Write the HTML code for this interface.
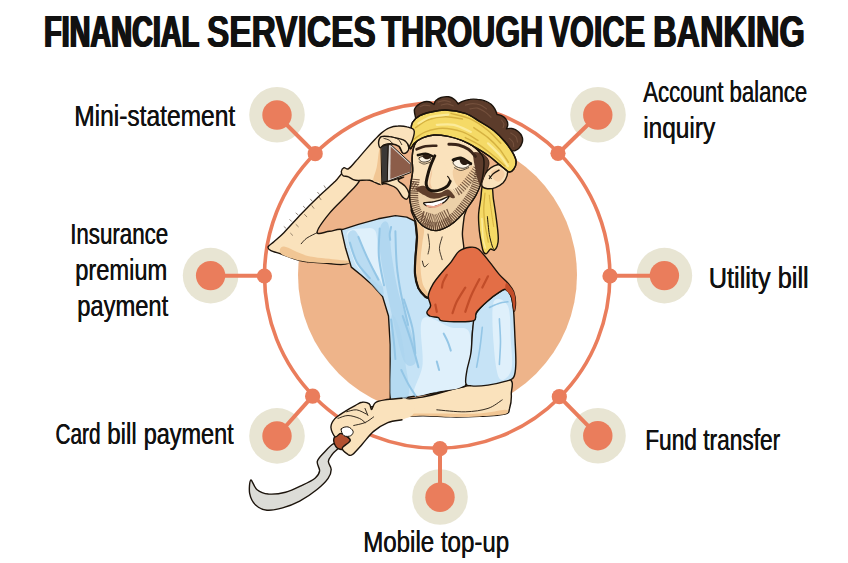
<!DOCTYPE html>
<html><head><meta charset="utf-8"><title>Financial services through voice banking</title>
<style>
html,body{margin:0;padding:0;background:#fff;}
body{width:848px;height:563px;overflow:hidden;font-family:"Liberation Sans",sans-serif;}
svg{display:block;}
text{font-family:"Liberation Sans",sans-serif;fill:#111;}
.t{font-weight:bold;font-size:43.5px;}
.l{font-size:30px;}
</style></head><body>
<svg width="848" height="563" viewBox="0 0 848 563">
<rect width="848" height="563" fill="#fff"/>
<!-- title -->
<g class="t" id="title">
<text x="43.20" y="46.7" textLength="155.1" lengthAdjust="spacingAndGlyphs">FINANCIAL</text>
<text x="44.10" y="46.7" textLength="155.1" lengthAdjust="spacingAndGlyphs">FINANCIAL</text>
<text x="45.00" y="46.7" textLength="155.1" lengthAdjust="spacingAndGlyphs">FINANCIAL</text>
<text x="206.40" y="46.7" textLength="168.8" lengthAdjust="spacingAndGlyphs">SERVICES</text>
<text x="207.00" y="46.7" textLength="168.8" lengthAdjust="spacingAndGlyphs">SERVICES</text>
<text x="207.60" y="46.7" textLength="168.8" lengthAdjust="spacingAndGlyphs">SERVICES</text>
<text x="380.85" y="46.7" textLength="161.8" lengthAdjust="spacingAndGlyphs">THROUGH</text>
<text x="381.50" y="46.7" textLength="161.8" lengthAdjust="spacingAndGlyphs">THROUGH</text>
<text x="382.15" y="46.7" textLength="161.8" lengthAdjust="spacingAndGlyphs">THROUGH</text>
<text x="548.80" y="46.7" textLength="95.8" lengthAdjust="spacingAndGlyphs">VOICE</text>
<text x="549.40" y="46.7" textLength="95.8" lengthAdjust="spacingAndGlyphs">VOICE</text>
<text x="550.00" y="46.7" textLength="95.8" lengthAdjust="spacingAndGlyphs">VOICE</text>
<text x="652.50" y="46.7" textLength="151.5" lengthAdjust="spacingAndGlyphs">BANKING</text>
<text x="653.20" y="46.7" textLength="151.5" lengthAdjust="spacingAndGlyphs">BANKING</text>
<text x="653.90" y="46.7" textLength="151.5" lengthAdjust="spacingAndGlyphs">BANKING</text>
</g>
<!-- labels -->
<g class="l">
<g transform="translate(0.4 0)">
<text x="74" y="125.8" textLength="161" lengthAdjust="spacingAndGlyphs">Mini-statement</text>
<text x="643" y="102" textLength="164" lengthAdjust="spacingAndGlyphs">Account balance</text>
<text x="643" y="138.3" textLength="72" lengthAdjust="spacingAndGlyphs">inquiry</text>
<text x="70" y="244.4" textLength="98" lengthAdjust="spacingAndGlyphs">Insurance</text>
<text x="75" y="280.1" textLength="92" lengthAdjust="spacingAndGlyphs">premium</text>
<text x="77" y="315.8" textLength="91" lengthAdjust="spacingAndGlyphs">payment</text>
<text x="708.5" y="287.6" textLength="100" lengthAdjust="spacingAndGlyphs">Utility bill</text>
<text x="55.3" y="443.9" textLength="45" lengthAdjust="spacingAndGlyphs">Card</text>
<text x="107" y="443.9" textLength="29.5" lengthAdjust="spacingAndGlyphs">bill</text>
<text x="143.5" y="443.9" textLength="90" lengthAdjust="spacingAndGlyphs">payment</text>
<text x="645" y="450.1" textLength="135" lengthAdjust="spacingAndGlyphs">Fund transfer</text>
<text x="363" y="551.5" textLength="146" lengthAdjust="spacingAndGlyphs">Mobile top-up</text>
</g>
<text x="74" y="125.8" textLength="161" lengthAdjust="spacingAndGlyphs">Mini-statement</text>
<text x="643" y="102" textLength="164" lengthAdjust="spacingAndGlyphs">Account balance</text>
<text x="643" y="138.3" textLength="72" lengthAdjust="spacingAndGlyphs">inquiry</text>
<text x="70" y="244.4" textLength="98" lengthAdjust="spacingAndGlyphs">Insurance</text>
<text x="75" y="280.1" textLength="92" lengthAdjust="spacingAndGlyphs">premium</text>
<text x="77" y="315.8" textLength="91" lengthAdjust="spacingAndGlyphs">payment</text>
<text x="708.5" y="287.6" textLength="100" lengthAdjust="spacingAndGlyphs">Utility bill</text>
<text x="55.3" y="443.9" textLength="45" lengthAdjust="spacingAndGlyphs">Card</text>
<text x="107" y="443.9" textLength="29.5" lengthAdjust="spacingAndGlyphs">bill</text>
<text x="143.5" y="443.9" textLength="90" lengthAdjust="spacingAndGlyphs">payment</text>
<text x="645" y="450.1" textLength="135" lengthAdjust="spacingAndGlyphs">Fund transfer</text>
<text x="363" y="551.5" textLength="146" lengthAdjust="spacingAndGlyphs">Mobile top-up</text>
</g>
<!-- inner disc -->
<circle cx="437.5" cy="275" r="139.5" fill="#eeb48a"/>
<!-- beige halos -->
<g fill="#e8e5d3">
<circle cx="277" cy="114.8" r="27.8"/><circle cx="598" cy="114.8" r="27.8"/>
<circle cx="210.6" cy="275.6" r="27.8"/><circle cx="664.4" cy="275.6" r="27.8"/>
<circle cx="277" cy="435.9" r="27.8"/><circle cx="598" cy="435.7" r="27.8"/>
<circle cx="440" cy="497" r="27.8"/>
</g>
<!-- ring + connectors -->
<g fill="none" stroke="#ea7d5c" stroke-width="3.6">
<circle cx="437.2" cy="275.6" r="172.7"/>
<g stroke-width="4">
<line x1="277" y1="115" x2="315" y2="153.2"/>
<line x1="597.8" y1="115" x2="558.5" y2="153.3"/>
<line x1="210.6" y1="275.8" x2="264.4" y2="275.8"/>
<line x1="664.4" y1="275.8" x2="610" y2="275.8"/>
<line x1="277" y1="436" x2="312.6" y2="396.2"/>
<line x1="597.8" y1="435.7" x2="559.3" y2="396.7"/>
<line x1="440" y1="497" x2="440" y2="448.7"/>
</g>
</g>
<!-- nodes -->
<g fill="#ea7d5c">
<circle cx="277" cy="115" r="14.7"/><circle cx="597.8" cy="115" r="14.7"/>
<circle cx="210.6" cy="275.6" r="14.7"/><circle cx="664.4" cy="275.6" r="14.7"/>
<circle cx="277" cy="436" r="14.7"/><circle cx="597.8" cy="435.7" r="14.7"/>
<circle cx="440" cy="497.2" r="14.7"/>
<circle cx="315.2" cy="153.7" r="7.6"/><circle cx="558" cy="153.3" r="7.6"/>
<circle cx="264.4" cy="276" r="7.6"/><circle cx="610" cy="276" r="7.6"/>
<circle cx="312.6" cy="396.2" r="7.6"/><circle cx="559.3" cy="396.7" r="7.6"/>
<circle cx="440" cy="448.7" r="7.6"/>
</g>
<!-- CHARACTER -->
<g id="man">
<path d="M483.1 183.5 C481.3 186.1 481.5 193.9 480.7 199.1 C480 204.3 478.8 209.5 478.6 214.7 C478.3 219.9 478.9 225.5 479.3 230.4 C479.8 235.2 480.8 240.5 481.5 244 C482.2 247.6 482.6 250.3 483.5 251.9 C484.3 253.4 485.2 254.1 486.4 253.6 C487.6 253.2 489.2 249.7 490.5 249.1 C491.8 248.6 493.1 250.8 494.2 250.3 C495.3 249.8 496.4 248.2 497.1 246.2 C497.8 244.2 498.4 242.8 498.3 238.2 C498.2 233.6 497.2 225.1 496.3 218.6 C495.5 212.1 494.3 204.9 493.4 199.1 C492.6 193.2 493 186.1 491.3 183.5 C489.5 180.8 484.8 180.8 483.1 183.5Z" fill="#f5da66" stroke="#1c140c" stroke-width="1.4" stroke-linejoin="round" stroke-linecap="round"/>
<path d="M485 193.2 C484.8 195.8 483.8 203.6 483.8 208.9 C483.8 214.1 484.3 219 485 224.5 C485.8 230 487.8 239.1 488.3 242.1" fill="none" stroke="#d6b241" stroke-width="1.2" stroke-linejoin="round" stroke-linecap="round"/>
<path d="M487.4 216.7 C487.7 219.6 488.5 229.4 489.3 234.3 C490.1 239.1 491.4 243.3 492.2 246 C493.1 248.6 493.9 249.4 494.2 250.1" fill="none" stroke="#1c140c" stroke-width="1" stroke-linejoin="round" stroke-linecap="round"/>
<path d="M489.3 195.2 C489.6 197.8 490.6 205.6 491.3 210.8 C492 216 493.2 223.8 493.6 226.4" fill="none" stroke="#d6b241" stroke-width="1" stroke-linejoin="round" stroke-linecap="round"/>
<path d="M481.9 218.6 C482.1 221.9 482.5 233.3 483.1 238.2 C483.6 243.1 485 246.3 485.4 247.9" fill="none" stroke="#fbeb9a" stroke-width="1.6" stroke-linejoin="round" stroke-linecap="round"/>
<path d="M415.6 117.9 C415.4 116.5 414 111.8 414.4 109.6 C414.7 107.5 416.4 106.4 417.8 105.1 C419.3 103.8 421.2 102.6 423.1 102.1 C425 101.5 427.3 101.4 429.2 101.8 C431 102.2 433.2 104 434 104.5 C434.3 103.8 434.7 101.7 435.9 100.6 C437.2 99.4 439.1 98.2 441.2 97.5 C443.4 96.9 446.5 96.4 448.8 96.8 C451 97.2 453.3 98.6 454.8 99.8 C456.4 101 457.6 103.2 458.1 103.9 C458.8 103.5 460.4 102.1 462.4 101.3 C464.3 100.6 467.4 99.7 469.9 99.4 C472.4 99 474.9 99.1 477.5 99.4 C480 99.6 482.7 100 485 100.9 C487.3 101.7 489.4 103 491.1 104.3 C492.7 105.7 493.8 107.2 494.8 108.9 C495.8 110.6 496.7 113.5 497.1 114.5 C497.8 114.7 500.1 114.8 501.6 115.7 C503.1 116.5 505.1 117.9 506.1 119.4 C507.2 120.9 507.8 123.2 507.8 124.7 C507.9 126.3 506.7 128.1 506.4 128.8 C507.4 128.7 510.2 128 512.2 128.5 C514.1 128.9 516.6 130.1 518.2 131.5 C519.9 132.9 521.5 134.9 522.1 136.8 C522.8 138.7 522.7 141 522.1 142.8 C521.6 144.7 520.3 146.8 519.1 148.1 C517.9 149.4 515.6 150.3 514.9 150.7 C513.7 150.6 510.9 152.2 507.7 150.4 C504.4 148.6 500.1 143.3 495.6 139.8 C491.1 136.3 485.5 132.1 480.5 129.3 C475.5 126.4 470.9 124.2 465.4 122.5 C459.9 120.7 452.8 119.2 447.3 118.7 C441.7 118.2 436.7 118.9 432.2 119.4 C427.6 119.9 422.9 122 420.1 121.7 C417.3 121.5 416.3 118.6 415.6 117.9Z" fill="#5c3c2b" stroke="#1c140c" stroke-width="1.4" stroke-linejoin="round" stroke-linecap="round"/>
<path d="M420.1 106.6 C420.9 106.4 423 105.2 424.6 105.1 C426.3 105 429 105.7 429.9 105.9" fill="none" stroke="#74503c" stroke-width="1.1" stroke-linejoin="round" stroke-linecap="round"/>
<path d="M438.2 102.1 C439.2 101.8 442.2 100.6 444.3 100.6 C446.3 100.6 449.3 101.8 450.3 102.1" fill="none" stroke="#74503c" stroke-width="1.1" stroke-linejoin="round" stroke-linecap="round"/>
<path d="M441.2 105.1 C442.2 104.9 445.3 103.8 447.3 103.9 C449.3 104 452.3 105.5 453.3 105.9" fill="none" stroke="#74503c" stroke-width="1.1" stroke-linejoin="round" stroke-linecap="round"/>
<path d="M465.4 105.1 C466.6 104.8 470.4 103.6 472.9 103.6 C475.5 103.6 478.2 104.2 480.5 105.1 C482.7 106 485.5 108.2 486.5 108.9" fill="none" stroke="#74503c" stroke-width="1.1" stroke-linejoin="round" stroke-linecap="round"/>
<path d="M469.9 108.9 C471.2 108.7 474.9 107.6 477.5 108.1 C480 108.6 482.7 110.4 485 111.9 C487.3 113.4 490 116.3 491.1 117.2" fill="none" stroke="#74503c" stroke-width="1.1" stroke-linejoin="round" stroke-linecap="round"/>
<path d="M501.6 120.2 C502 120.8 503.6 122.7 503.9 124 C504.1 125.2 503.3 127.1 503.1 127.7" fill="none" stroke="#74503c" stroke-width="1.1" stroke-linejoin="round" stroke-linecap="round"/>
<path d="M510.7 133 C511.6 133.7 514.8 135.3 516 136.8 C517.1 138.3 517.2 141.2 517.5 142.1" fill="none" stroke="#74503c" stroke-width="1.1" stroke-linejoin="round" stroke-linecap="round"/>
<path d="M509.2 138.3 C509.8 138.9 512.2 140.7 512.9 142.1 C513.7 143.5 513.6 145.9 513.7 146.6" fill="none" stroke="#74503c" stroke-width="1.1" stroke-linejoin="round" stroke-linecap="round"/>
<path d="M475.2 151.3 C476.5 150.6 481.8 153 484 154.8 C486.3 156.6 488.4 159.3 488.9 162 C489.4 164.7 487.9 167.7 487 170.8 C486 173.9 484.4 179.3 483.1 180.6 C481.8 181.9 480 180.6 479.1 178.6 C478.3 176.7 478.2 172.1 477.8 168.9 C477.4 165.6 477 162 476.6 159.1 C476.2 156.2 474 152 475.2 151.3Z" fill="#5c3c2b" stroke="#1c140c" stroke-width="0.8" stroke-linejoin="round" stroke-linecap="round"/>
<path d="M412.4 205.7 C408.6 211.1 414.5 216.1 415.3 221.3 C416 226.5 416.7 231 416.7 236.9 C416.7 242.9 415.6 250.7 415.3 256.8 C414.9 263 414.2 268.7 414.7 273.9 C415.2 279.1 416.3 284.3 418.1 288.1 C419.8 291.9 423.2 294.9 425.2 296.6 C427.2 298.3 428.4 300.7 430 298.3 C431.7 296 432.9 287 435.1 282.4 C437.4 277.9 440.4 274.8 443.7 271 C447 267.3 451.7 262.9 455 259.7 C458.4 256.5 462.3 256 463.6 251.7 C464.8 247.5 462.3 239.9 462.4 234.1 C462.5 228.3 463.5 222.7 464.1 217.1 C464.8 211.4 470.8 204.7 466.4 200 C462 195.3 447 187.7 438 188.6 C429 189.6 416.2 200.2 412.4 205.7Z" fill="#fae2bc" stroke="#1c140c" stroke-width="1.4" stroke-linejoin="round" stroke-linecap="round"/>
<path d="M415.3 222.7 C414.1 224.2 416.7 231.3 416.7 236.9 C416.7 242.6 415.6 250.7 415.3 256.8 C414.9 263 414.2 268.7 414.7 273.9 C415.2 279.1 416.3 284.3 418.1 288.1 C419.8 291.9 423.5 295.7 425.2 296.6 C426.9 297.6 428.5 296.1 428 293.8 C427.6 291.4 423.6 287.6 422.4 282.4 C421.1 277.2 420.4 269.1 420.4 262.5 C420.4 255.9 421.8 248.3 422.4 242.6 C422.9 236.9 425 231.7 423.8 228.4 C422.6 225.1 416.4 221.3 415.3 222.7Z" fill="#f1c694"/>
<path d="M422.4 261.1 C422.7 262 423.4 266.3 424.3 266.8 C425.3 267.3 427.4 264.4 428 263.9" fill="none" stroke="#1c140c" stroke-width="0.9" stroke-linejoin="round" stroke-linecap="round"/>
<path d="M428 234.1 C428.3 236 429.5 242.2 429.5 245.5 C429.5 248.8 428.3 252.6 428 254" fill="none" stroke="#1c140c" stroke-width="0.8" stroke-linejoin="round" stroke-linecap="round"/>
<path d="M442.2 236.9 C441.8 238.8 439.4 244.5 439.4 248.3 C439.4 252.1 441.8 257.8 442.2 259.7" fill="none" stroke="#1c140c" stroke-width="0.8" stroke-linejoin="round" stroke-linecap="round"/>
<path d="M343.8 172.2 C340.5 173.6 339.5 177.1 335.3 181.3 C331 185.4 323.9 191.4 318.2 196.9 C312.5 202.3 306.8 208 301.2 213.9 C295.5 219.9 288.6 227.8 284.1 232.4 C279.6 237 276.8 239.1 274.2 241.5 C271.5 243.9 268.8 245.2 268.2 246.6 C267.6 248.1 268.3 249.1 270.5 250.3 C272.6 251.5 276.1 252.3 281.3 254 C286.4 255.8 294 259.3 301.2 260.8 C308.3 262.3 316.1 262.7 323.9 263.1 C331.7 263.5 342.8 266.1 348 263.4 C353.2 260.6 355.9 252.2 355.1 246.6 C354.4 241.1 348 232.7 343.8 230.1 C339.5 227.6 334 230.9 329.6 231.3 C325.1 231.7 317.1 235.4 317.1 232.4 C317.1 229.4 324.6 219.2 329.6 213.1 C334.5 206.9 341.6 200.9 346.6 195.5 C351.6 190.1 358 184.5 359.4 180.7 C360.8 176.9 357.7 174.2 355.1 172.7 C352.5 171.3 347.1 170.7 343.8 172.2Z" fill="#fae2bc" stroke="#1c140c" stroke-width="1.4" stroke-linejoin="round" stroke-linecap="round"/>
<path d="M317.1 232.7 C315.4 233.6 309.5 236.2 306.8 238.1 C304.2 239.9 302.1 242.8 301.2 243.8" fill="none" stroke="#1c140c" stroke-width="0.9" stroke-linejoin="round" stroke-linecap="round"/>
<path d="M325.6 188.1 L324.2 185.8" fill="none" stroke="#4a3a2c" stroke-width="0.6" stroke-linejoin="round" stroke-linecap="round"/>
<path d="M319.3 194.3 L317.6 192.3" fill="none" stroke="#4a3a2c" stroke-width="0.6" stroke-linejoin="round" stroke-linecap="round"/>
<path d="M312.2 201.2 L310.5 199.2" fill="none" stroke="#4a3a2c" stroke-width="0.6" stroke-linejoin="round" stroke-linecap="round"/>
<path d="M305.1 208 L303.4 206.3" fill="none" stroke="#4a3a2c" stroke-width="0.6" stroke-linejoin="round" stroke-linecap="round"/>
<path d="M298 214.8 L296 213.1" fill="none" stroke="#4a3a2c" stroke-width="0.6" stroke-linejoin="round" stroke-linecap="round"/>
<path d="M291.5 221.3 L289.8 219.6" fill="none" stroke="#4a3a2c" stroke-width="0.6" stroke-linejoin="round" stroke-linecap="round"/>
<path d="M285.8 228.1 L284.1 226.7" fill="none" stroke="#4a3a2c" stroke-width="0.6" stroke-linejoin="round" stroke-linecap="round"/>
<path d="M321 199.7 L319.3 197.2" fill="none" stroke="#4a3a2c" stroke-width="0.6" stroke-linejoin="round" stroke-linecap="round"/>
<path d="M313.9 208.3 L311.9 205.7" fill="none" stroke="#4a3a2c" stroke-width="0.6" stroke-linejoin="round" stroke-linecap="round"/>
<path d="M306.8 216.8 L304.6 214.5" fill="none" stroke="#4a3a2c" stroke-width="0.6" stroke-linejoin="round" stroke-linecap="round"/>
<path d="M298.3 226.7 L296 224.5" fill="none" stroke="#4a3a2c" stroke-width="0.6" stroke-linejoin="round" stroke-linecap="round"/>
<path d="M292.6 235.3 L290.6 233.3" fill="none" stroke="#4a3a2c" stroke-width="0.6" stroke-linejoin="round" stroke-linecap="round"/>
<path d="M289.8 255.1 L290.9 258" fill="none" stroke="#4a3a2c" stroke-width="0.6" stroke-linejoin="round" stroke-linecap="round"/>
<path d="M298.3 258 L299.4 260.8" fill="none" stroke="#4a3a2c" stroke-width="0.6" stroke-linejoin="round" stroke-linecap="round"/>
<path d="M306.8 260.3 L307.7 262.8" fill="none" stroke="#4a3a2c" stroke-width="0.6" stroke-linejoin="round" stroke-linecap="round"/>
<path d="M284.1 252.3 L285.2 254.9" fill="none" stroke="#4a3a2c" stroke-width="0.6" stroke-linejoin="round" stroke-linecap="round"/>
<path d="M284.1 246.6 C288.4 246.9 298.3 253.6 306.8 255.7 C315.4 257.8 328.4 258.6 335.3 259.4 C342.1 260.3 345.9 260.2 348 260.8 C350.2 261.5 352.1 263 348 263.4 C344 263.8 331.7 263.5 323.9 263.1 C316.1 262.7 308.3 262.3 301.2 260.8 C294 259.3 284.1 256.4 281.3 254 C278.4 251.6 279.8 246.3 284.1 246.6Z" fill="#f1c694"/>
<path d="M380 405 C385 403.2 383.1 401.8 390.2 400.5 C397.3 399.1 410.1 399.4 422.6 397.1 C435.1 394.7 451 389.3 465.3 386.3 C479.5 383.2 500.2 377.3 507.9 378.6 C515.5 379.9 511 389.2 511.3 394.2 C511.6 399.2 510.6 405.1 509.6 408.4 C508.5 411.7 510.1 412.8 505 414.1 C500 415.4 488.5 415.9 479.5 416.4 C470.5 416.8 460.5 417 451 416.9 C441.6 416.8 431.6 415.7 422.6 415.8 C413.6 415.9 404.2 416 397.1 417.5 C389.9 419 385.7 422.6 380 424.9 C374.3 427.2 366.3 433.4 362.9 431.2 C359.6 428.9 357.3 415.6 360.1 411.3 C362.9 406.9 375 406.8 380 405Z" fill="#fae2bc" stroke="#1c140c" stroke-width="1.4" stroke-linejoin="round" stroke-linecap="round"/>
<path d="M436.8 409.8 C441.6 410.2 456.7 412.1 465.3 411.8 C473.8 411.6 481.8 410.4 488 408.4 C494.1 406.4 499.8 401.3 502.2 399.9" fill="none" stroke="#1c140c" stroke-width="0.9" stroke-linejoin="round" stroke-linecap="round"/>
<path d="M397.1 414.1 C403.7 413.4 423.1 413.6 436.8 413.5 C450.6 413.4 468.1 414.1 479.5 413.5 C490.8 412.9 500.8 409.7 505 409.8 C509.3 409.9 509.3 413 505 414.1 C500.8 415.2 488.5 415.9 479.5 416.4 C470.5 416.8 460.5 417 451 416.9 C441.6 416.8 431.6 415.7 422.6 415.8 C413.6 415.9 401.3 417.8 397.1 417.5 C392.8 417.2 390.4 414.8 397.1 414.1Z" fill="#f1c694"/>
<path d="M341.4 229.8 L358.4 224.4 L378.3 218.8 L395.4 215.6 L406.7 217.1 L415.3 221.3 L416.7 236.9 L415.3 256.8 L414.7 273.9 L418.1 288.1 L425.2 296.6 L430 298.3 L441.1 320.3 L465.3 317.5 L475.5 314.6 L472.6 330.3 L471.5 353 L468.1 370 L465.3 386.2 L436.8 392.8 L408.4 397.3 L390.2 400.2 L390.2 372.9 L390.2 344.5 L388.5 316 L382.6 296.6 L372.6 285.3 L361.3 275.3 L351.3 267.1 L345.6 248.3Z" fill="#c6e3f6" stroke="#1c140c" stroke-width="1.4" stroke-linejoin="round" stroke-linecap="round"/>
<path d="M422.6 318.9 C427.4 312.7 443.5 325.5 451 327.4 C458.6 329.3 464.9 326 468.1 330.3 C471.3 334.5 470.8 344 470.4 353 C469.9 362 470.8 377.9 465.3 384.2 C459.7 390.6 445.4 389.7 436.8 391.3 C428.3 393 416.5 398.7 414.1 394.2 C411.7 389.7 421.2 376.9 422.6 364.4 C424 351.8 417.9 325 422.6 318.9Z" fill="#dff0fb"/>
<path d="M347.1 232.7 C348.9 227.9 359.4 228.7 364.1 228.4 C368.8 228.2 373.1 226.5 375.5 231.3 C377.8 236 377.1 247.8 378.3 256.8 C379.5 265.8 383.5 281.5 382.6 285.3 C381.6 289 376.7 282.4 372.6 279.6 C368.6 276.7 361.7 272 358.4 268.2 C355.1 264.4 354.6 262.8 352.7 256.8 C350.8 250.9 345.2 237.4 347.1 232.7Z" fill="#dff0fb"/>
<path d="M380.6 226.1 C382 221.6 386.4 218.8 388.3 223.9 C390.1 229 390.2 245.2 391.9 256.8 C393.7 268.5 395.4 280.5 398.8 293.8 C402.2 307 409.6 325 412.4 336.4 C415.3 347.8 417.1 357.7 415.8 362 C414.5 366.2 408.1 368.1 404.5 362 C400.9 355.8 397.3 337.8 394.2 325 C391.1 312.2 388.1 297.6 385.7 285.3 C383.3 272.9 380.9 261 380 251.2 C379.2 241.3 379.2 230.7 380.6 226.1Z" fill="#aad3ee" opacity="0.75"/>
<path d="M347.6 234.7 C348.6 231.8 352.9 228.1 356.1 231.8 C359.4 235.5 362.8 248.4 366.9 256.8 C371.1 265.3 378.5 276 381.2 282.4 C383.8 288.9 384.3 295 382.9 295.5 C381.4 296 376.7 290.2 372.6 285.3 C368.6 280.3 362.1 272 358.4 265.9 C354.7 259.9 352.3 254.1 350.5 248.9 C348.7 243.7 346.7 237.5 347.6 234.7Z" fill="#aad3ee" opacity="0.7"/>
<path d="M391.4 316 C392.9 311.3 397.5 322.2 399.9 330.3 C402.3 338.3 404.2 353.5 405.6 364.4 C407 375.2 410.8 389.9 408.4 395.6 C406 401.3 394.3 404.6 391.4 398.5 C388.4 392.3 390.8 372.4 390.8 358.7 C390.8 344.9 389.9 320.8 391.4 316Z" fill="#aad3ee" opacity="0.6"/>
<path d="M415.3 221.3 C415.5 223.9 416.9 231 417 236.9 C417 242.9 415.9 250.7 415.5 256.8 C415.2 263 414.5 268.7 415 273.9 C415.4 279.1 416.7 284.3 418.4 288.1 C420.1 291.9 423.3 294.9 425.2 296.6 C427.1 298.3 429.2 298 430 298.3" fill="none" stroke="#1c140c" stroke-width="2.2" stroke-linejoin="round" stroke-linecap="round"/>
<path d="M391.1 227 C390.9 228.2 389.8 232 389.7 234.1 C389.5 236.2 390.1 238.8 390.2 239.8" fill="none" stroke="#94c6e6" stroke-width="2" stroke-linejoin="round" stroke-linecap="round"/>
<path d="M379.7 228.4 C379.6 233.2 378.2 247.4 378.9 256.8 C379.6 266.3 383.1 280.5 384 285.3" fill="none" stroke="#94c6e6" stroke-width="2" stroke-linejoin="round" stroke-linecap="round"/>
<path d="M395.4 231.3 C395.6 236.9 395.8 254.9 396.8 265.4 C397.7 275.8 399.1 283.8 401 293.8 C402.9 303.7 407 319.8 408.1 325" fill="none" stroke="#94c6e6" stroke-width="2" stroke-linejoin="round" stroke-linecap="round"/>
<path d="M358.4 236.9 C359.8 240.3 363.6 249.7 366.9 256.8 C370.3 263.9 376.4 275.8 378.3 279.6" fill="none" stroke="#94c6e6" stroke-width="2" stroke-linejoin="round" stroke-linecap="round"/>
<path d="M349.9 242.6 C351.1 245.9 353.7 256.6 357 262.5 C360.3 268.4 367.7 275.5 369.8 278.1" fill="none" stroke="#94c6e6" stroke-width="2" stroke-linejoin="round" stroke-linecap="round"/>
<path d="M403.9 299.5 C405.3 304.2 410.5 318.9 412.4 327.9 C414.3 336.9 414.8 349.2 415.3 353.5" fill="none" stroke="#94c6e6" stroke-width="2" stroke-linejoin="round" stroke-linecap="round"/>
<path d="M391.1 319.4 C391.6 323.1 393.2 335.5 393.9 342.1 C394.6 348.7 395.1 356.3 395.4 359.1" fill="none" stroke="#94c6e6" stroke-width="2" stroke-linejoin="round" stroke-linecap="round"/>
<path d="M443.7 333.6 C444.4 335 446.7 339.2 447.9 342.1 C449.1 344.9 450.3 349.2 450.8 350.6" fill="none" stroke="#94c6e6" stroke-width="2" stroke-linejoin="round" stroke-linecap="round"/>
<path d="M402.7 316 C404.2 320.3 408.7 333.1 411.3 341.6 C413.9 350.1 417.2 362.9 418.4 367.2" fill="none" stroke="#94c6e6" stroke-width="2" stroke-linejoin="round" stroke-linecap="round"/>
<path d="M401.3 370 C402.5 372.4 406 380 408.4 384.2 C410.8 388.5 414.3 393.7 415.5 395.6" fill="none" stroke="#94c6e6" stroke-width="2" stroke-linejoin="round" stroke-linecap="round"/>
<path d="M436.8 361.5 L439.1 370" fill="none" stroke="#94c6e6" stroke-width="2" stroke-linejoin="round" stroke-linecap="round"/>
<path d="M475.5 314.6 C478 309.7 484 304.4 488 300.7 C492 297 496.4 294.1 499.4 292.2 C502.3 290.3 503.6 288.6 505.6 289.3 C507.6 290.1 510 293.1 511.3 296.7 C512.6 300.3 512.9 303.9 513.6 310.9 C514.2 317.9 514.6 329.9 515 338.8 C515.4 347.7 516.1 357.9 515.8 364.4 C515.6 370.8 515.4 374.6 513.6 377.4 C511.8 380.3 509.3 380.1 505 381.4 C500.8 382.7 493.6 384.3 488 385.1 C482.4 385.9 475.2 386.3 471.5 385.9 C467.8 385.6 466.6 385.8 465.8 383.1 C465.1 380.5 466.1 375.1 467 370 C467.8 365 470 359.6 470.9 353 C471.9 346.4 471.9 336.6 472.6 330.3 C473.4 323.9 472.9 319.5 475.5 314.6Z" fill="#c6e3f6" stroke="#1c140c" stroke-width="1.4" stroke-linejoin="round" stroke-linecap="round"/>
<path d="M493.7 301.8 C496 295.4 505 299.9 507.9 306.1 C510.7 312.3 510.2 328.1 510.7 338.8 C511.3 349.4 513.2 363.4 511.3 370 C509.4 376.7 502.3 382.8 499.4 378.6 C496.4 374.3 494.6 357.2 493.7 344.5 C492.7 331.7 491.3 308.2 493.7 301.8Z" fill="#dff0fb"/>
<path d="M482.3 327.4 C481.9 330.7 481 340.7 480 347.3 C479.1 353.9 477.2 363.9 476.6 367.2" fill="none" stroke="#94c6e6" stroke-width="1.6" stroke-linejoin="round" stroke-linecap="round"/>
<path d="M499.4 318.9 C499.5 322.7 500.5 334 500.5 341.6 C500.5 349.2 499.5 360.6 499.4 364.4" fill="none" stroke="#94c6e6" stroke-width="1.6" stroke-linejoin="round" stroke-linecap="round"/>
<path d="M489.4 307.5 C491.1 306.8 496.3 304.2 499.4 303.3 C502.4 302.3 506.5 302.1 507.9 301.8" fill="none" stroke="#94c6e6" stroke-width="1.6" stroke-linejoin="round" stroke-linecap="round"/>
<path d="M459 251.3 C462.1 248.8 466.6 247.7 469.8 247.3 C473 246.9 475 246.5 478.3 249 C481.6 251.4 486.2 257.8 489.7 262.1 C493.2 266.3 496.2 271 499.4 274.6 C502.5 278.2 506.1 280.8 508.4 283.6 C510.8 286.5 512.4 288.5 513.6 291.6 C514.7 294.7 515.5 299.2 515.5 302.4 C515.6 305.6 514.8 311.9 514.1 310.9 C513.4 310 512.7 300.3 511.3 296.7 C509.9 293.1 507.6 290.1 505.6 289.3 C503.6 288.6 502.3 290.3 499.4 292.2 C496.4 294.1 491.8 297.4 488 300.7 C484.2 304 479 308.7 476.6 312.1 C474.3 315.4 477.6 319 473.8 320.6 C470 322.2 459.3 321.7 453.9 321.7 C448.4 321.7 443.7 321.3 441.1 320.6 C438.5 319.9 440.1 318.5 438.3 317.7 C436.4 317 431.6 317 429.7 316 C427.8 315.1 426.7 313.8 426.9 312.1 C427 310.4 430.3 308.5 430.6 305.8 C430.8 303.2 428 299.7 428.3 296.2 C428.6 292.6 430.4 288.6 432.6 284.8 C434.7 281 438 277.2 441.1 273.4 C444.2 269.6 448.1 265.7 451 262.1 C454 258.4 455.9 253.7 459 251.3Z" fill="#e36e46" stroke="#1c140c" stroke-width="1.4" stroke-linejoin="round" stroke-linecap="round"/>
<path d="M506.7 283.1 C508.1 283.5 512.1 288.4 513.6 291.6 C515 294.8 515.5 299.2 515.5 302.4 C515.6 305.6 514.8 311.9 514.1 310.9 C513.4 310 512.7 300.3 511.3 296.7 C509.9 293.1 506.4 291.6 505.6 289.3 C504.8 287.1 505.4 282.7 506.7 283.1Z" fill="#c24d29"/>
<path d="M446.8 274.8 C446.2 276 443.9 279.8 443.1 281.9 C442.3 284.1 442.1 286.7 441.9 287.6" fill="none" stroke="#c24d29" stroke-width="2.2" stroke-linejoin="round" stroke-linecap="round"/>
<path d="M465.3 287.6 C463.8 290 458.9 297.6 456.7 301.8 C454.6 306.1 453.2 311.3 452.5 313.2" fill="none" stroke="#c24d29" stroke-width="2.2" stroke-linejoin="round" stroke-linecap="round"/>
<path d="M479.5 279.1 C478 281.9 473.3 290.7 470.9 296.2 C468.6 301.6 466.2 309.2 465.3 311.8" fill="none" stroke="#c24d29" stroke-width="2.2" stroke-linejoin="round" stroke-linecap="round"/>
<path d="M435.4 304.7 L436.8 311.8" fill="none" stroke="#c24d29" stroke-width="2.2" stroke-linejoin="round" stroke-linecap="round"/>
<path d="M488 276.3 L482.3 287.6" fill="none" stroke="#c24d29" stroke-width="2.2" stroke-linejoin="round" stroke-linecap="round"/>
<path d="M250.8 480 C249.6 480.7 248.9 489.5 249.7 493.7 C250.5 497.8 252.7 502.3 255.6 505 C258.5 507.8 262.5 509.7 267 510.2 C271.5 510.6 277.2 509.4 282.6 507.9 C288.1 506.4 294 504.1 299.7 501.1 C305.4 498 312 493.5 316.7 489.7 C321.5 485.9 325.7 481.7 328.1 478.3 C330.5 475 331.2 472.4 331.2 469.5 C331.3 466.7 328.1 463.9 328.4 461.3 C328.6 458.7 330.9 456.3 332.6 453.9 C334.4 451.5 338.7 448.8 338.9 447.1 C339.1 445.4 336.2 442.8 333.8 443.7 C331.3 444.6 326.9 449.5 324.1 452.5 C321.4 455.4 318.1 458.2 317.3 461.3 C316.5 464.4 319.9 468.1 319.6 470.9 C319.2 473.7 318.1 475.7 315.3 478 C312.5 480.4 307.5 482.8 302.5 485.1 C297.5 487.5 291.2 490.8 285.5 492.2 C279.8 493.7 273.2 494.4 268.4 494 C263.7 493.5 260 492 257.1 489.7 C254.1 487.4 252 479.4 250.8 480Z" fill="#dcdcd7" stroke="#1c140c" stroke-width="1.4" stroke-linejoin="round" stroke-linecap="round"/>
<path d="M334.6 436.8 C335.7 435 338.6 433 341.2 433.4 C343.8 433.9 349.2 437.3 350.3 439.7 C351.3 442 349.1 446 347.4 447.6 C345.7 449.2 342.2 449.9 340 449.3 C337.9 448.8 335.5 446.3 334.6 444.2 C333.7 442.1 333.5 438.6 334.6 436.8Z" fill="#b3502f" stroke="#1c140c" stroke-width="1.4" stroke-linejoin="round" stroke-linecap="round"/>
<path d="M402 398.2 C397.2 397.7 389.4 399.1 384.9 399.9 C380.5 400.6 377.5 401.1 375.3 402.7 C373 404.3 372.6 409.4 371.6 409.6 C370.6 409.7 370.9 405.1 369.3 403.9 C367.7 402.6 364.6 401.9 362.2 402.2 C359.8 402.4 357.9 404.1 355.1 405.6 C352.2 407.1 348.5 409.1 345.1 411.3 C341.8 413.4 337.3 416 334.9 418.6 C332.5 421.3 330.9 424.1 330.9 427.2 C331 430.2 333.5 435.8 335.2 436.8 C336.9 437.9 338.7 432.9 341.2 433.4 C343.7 434 350.1 437.8 350.3 440.2 C350.4 442.7 342.7 445.8 342.3 448.2 C341.9 450.6 346.3 453.4 348 454.5 C349.7 455.5 350.2 456.2 352.5 454.5 C354.9 452.7 358.7 448.1 362.2 444.2 C365.7 440.4 369.3 435 373.6 431.4 C377.8 427.8 383 424.6 387.8 422.6 C392.5 420.7 397.7 421.2 402 419.8 C406.2 418.4 411.5 416.9 413.3 414.1 C415.2 411.3 415.2 405.4 413.3 402.7 C411.5 400.1 406.7 398.7 402 398.2Z" fill="#fae2bc"/>
<path d="M402 398.2 C399.1 398.5 389.4 399.1 384.9 399.9 C380.5 400.6 377.5 401.1 375.3 402.7 C373 404.3 372.6 409.4 371.6 409.6 C370.6 409.7 370.9 405.1 369.3 403.9 C367.7 402.6 364.6 401.9 362.2 402.2 C359.8 402.4 357.9 404.1 355.1 405.6 C352.2 407.1 348.5 409.1 345.1 411.3 C341.8 413.4 337.3 416 334.9 418.6 C332.5 421.3 330.9 424.1 330.9 427.2 C331 430.2 333.5 435.8 335.2 436.8 C336.9 437.9 338.7 432.9 341.2 433.4 C343.7 434 350.1 437.8 350.3 440.2 C350.4 442.7 342.7 445.8 342.3 448.2 C341.9 450.6 346.3 453.4 348 454.5 C349.7 455.5 350.2 456.2 352.5 454.5 C354.9 452.7 358.7 448.1 362.2 444.2 C365.7 440.4 369.3 435 373.6 431.4 C377.8 427.8 383 424.6 387.8 422.6 C392.5 420.7 399.6 420.3 402 419.8" fill="none" stroke="#1c140c" stroke-width="1.4" stroke-linejoin="round" stroke-linecap="round"/>
<path d="M341.2 428.9 C341.8 427.4 346 426.5 348 426.9 C350 427.3 352.6 429.7 353.1 431.2 C353.6 432.6 352.3 434.9 350.8 435.7 C349.3 436.5 345.6 436.8 344 435.7 C342.4 434.6 340.5 430.3 341.2 428.9Z" fill="#ffffff" stroke="#1c140c" stroke-width="1" stroke-linejoin="round" stroke-linecap="round"/>
<path d="M338 418.4 C339.7 417.9 344.4 415.5 348 415.5 C351.5 415.5 356.5 417.2 359.4 418.4 C362.2 419.5 364.1 421.9 365 422.6" fill="none" stroke="#1c140c" stroke-width="0.9" stroke-linejoin="round" stroke-linecap="round"/>
<path d="M346.6 411.8 C348.2 411.5 353.2 409.5 356.5 409.8 C359.8 410.2 364.8 413.4 366.5 414.1" fill="none" stroke="#1c140c" stroke-width="0.9" stroke-linejoin="round" stroke-linecap="round"/>
<path d="M353.7 425.5 C355.6 425 361.7 424 365 422.6 C368.4 421.2 372.1 417.9 373.6 416.9" fill="none" stroke="#1c140c" stroke-width="0.9" stroke-linejoin="round" stroke-linecap="round"/>
<path d="M365 408.4 L367.9 415.5" fill="none" stroke="#1c140c" stroke-width="0.9" stroke-linejoin="round" stroke-linecap="round"/>
<path d="M481.9 185.8 C481.2 183.9 482.5 180.1 483.5 177.6 C484.4 175.1 485.6 172.7 487.4 170.7 C489.2 168.8 491.8 166.9 494.2 165.9 C496.6 164.9 499.9 164.2 502 164.7 C504.2 165.2 506.3 167 507.1 168.8 C507.9 170.6 507.7 173.3 507.1 175.6 C506.4 177.9 505.1 180.7 503.2 182.7 C501.2 184.7 498 186.5 495.4 187.6 C492.7 188.6 489.6 189 487.4 188.7 C485.1 188.4 482.5 187.7 481.9 185.8Z" fill="#fae2bc" stroke="#1c140c" stroke-width="1.4" stroke-linejoin="round" stroke-linecap="round"/>
<path d="M491.3 171.7 C492.1 169.9 497 168.8 499.1 168.8 C501.2 168.8 503.2 170.4 504 171.7 C504.8 173 504.8 175 504 176.6 C503.2 178.2 500.7 181 499.1 181.5 C497.5 182 495.5 181.2 494.2 179.5 C492.9 177.9 490.5 173.5 491.3 171.7Z" fill="#f6cfa6"/>
<path d="M489.3 178.6 C490 177.8 491.6 175.1 493.2 173.7 C494.9 172.3 498.1 170.7 499.1 170.2" fill="none" stroke="#1c140c" stroke-width="1.3" stroke-linejoin="round" stroke-linecap="round"/>
<path d="M489.3 175.6 L491.3 178.6" fill="none" stroke="#1c140c" stroke-width="1" stroke-linejoin="round" stroke-linecap="round"/>
<clipPath id="fc"><path d="M413.7 147.4 C412.4 150.9 412.3 155.2 412.1 159.1 C412 163 412.9 166.9 412.7 170.8 C412.5 174.7 411.4 179 410.9 182.5 C410.5 186.1 409.9 189.1 409.8 192.3 C409.6 195.6 409.6 198.8 410.2 202.1 C410.7 205.3 411.5 208.6 412.9 211.9 C414.3 215.1 416.5 219 418.6 221.6 C420.7 224.2 422.5 226 425.4 227.5 C428.3 229 432.2 230.9 436.2 230.6 C440.1 230.4 445.1 228 448.9 225.9 C452.6 223.8 455.4 221.4 458.6 218.1 C461.9 214.8 465.5 210.3 468.4 206.4 C471.3 202.5 474.1 198.6 476.2 194.7 C478.3 190.7 479.9 186.6 481.1 182.9 C482.3 179.3 482.8 176.3 483.3 172.8 C483.7 169.3 484.2 164.9 484 162 C483.8 159.1 484 157.9 482.1 155.2 C480.1 152.4 476.2 148.1 472.3 145.4 C468.4 142.7 463.2 140.5 458.6 138.8 C454.1 137 449.5 135.6 444.9 134.9 C440.4 134.1 435.5 133.5 431.3 134.1 C427 134.6 422.5 135.8 419.5 138 C416.6 140.2 414.9 143.8 413.7 147.4Z"/></clipPath>
<path d="M413.7 147.4 C412.4 150.9 412.3 155.2 412.1 159.1 C412 163 412.9 166.9 412.7 170.8 C412.5 174.7 411.4 179 410.9 182.5 C410.5 186.1 409.9 189.1 409.8 192.3 C409.6 195.6 409.6 198.8 410.2 202.1 C410.7 205.3 411.5 208.6 412.9 211.9 C414.3 215.1 416.5 219 418.6 221.6 C420.7 224.2 422.5 226 425.4 227.5 C428.3 229 432.2 230.9 436.2 230.6 C440.1 230.4 445.1 228 448.9 225.9 C452.6 223.8 455.4 221.4 458.6 218.1 C461.9 214.8 465.5 210.3 468.4 206.4 C471.3 202.5 474.1 198.6 476.2 194.7 C478.3 190.7 479.9 186.6 481.1 182.9 C482.3 179.3 482.8 176.3 483.3 172.8 C483.7 169.3 484.2 164.9 484 162 C483.8 159.1 484 157.9 482.1 155.2 C480.1 152.4 476.2 148.1 472.3 145.4 C468.4 142.7 463.2 140.5 458.6 138.8 C454.1 137 449.5 135.6 444.9 134.9 C440.4 134.1 435.5 133.5 431.3 134.1 C427 134.6 422.5 135.8 419.5 138 C416.6 140.2 414.9 143.8 413.7 147.4Z" fill="#fae2bc" stroke="#1c140c" stroke-width="1.4" stroke-linejoin="round" stroke-linecap="round"/>
<g clip-path="url(#fc)">
<path d="M407.8 184.5 C409.3 182 413.3 186.7 415.6 187.4 C418 188.1 419.6 187.9 421.9 188.8 C424.2 189.7 426.4 191.9 429.3 192.7 C432.2 193.5 435.8 194.3 439.1 193.7 C442.3 193 445.9 189 448.9 188.8 C451.8 188.6 454.4 193.1 456.7 192.7 C459 192.3 460.6 188.8 462.5 186.4 C464.5 184.1 466.4 181.6 468.4 178.6 C470.4 175.7 472.5 172 474.3 168.9 C476.1 165.8 477.2 161.5 479.1 160.1 C481.1 158.6 484.8 156 486 160.1 C487.1 164.1 487.6 178.1 486 184.5 C484.4 190.8 479.1 193.9 476.2 198.2 C473.3 202.4 471.3 206 468.4 209.9 C465.5 213.8 461.9 218.4 458.6 221.6 C455.4 224.9 452.6 227.5 448.9 229.4 C445.1 231.4 440.4 233.2 436.2 233.3 C431.9 233.5 426.9 232 423.5 230.4 C420 228.8 417.9 226.7 415.6 223.6 C413.4 220.5 411.2 215.4 409.8 211.9 C408.3 208.3 407.2 206.6 406.8 202.1 C406.5 197.5 406.4 186.9 407.8 184.5Z" fill="#ecd0a8"/>
<path d="M453.7 168.9 C455.5 167.4 461.4 170.3 464.5 169.8 C467.6 169.3 470.8 165.4 472.3 165.9 C473.8 166.4 474.3 170 473.3 172.8 C472.3 175.5 468.9 180.3 466.4 182.5 C464 184.8 460.7 187.1 458.6 186.4 C456.5 185.8 454.6 181.6 453.7 178.6 C452.9 175.7 452 170.3 453.7 168.9Z" fill="#f2cfa2"/>
<path d="M411.3 178.6 C411.1 180.9 410 188.4 409.8 192.3 C409.6 196.2 409.6 198.8 410.2 202.1 C410.7 205.3 411.5 208.6 412.9 211.9 C414.3 215.1 416.5 219 418.6 221.6 C420.7 224.2 422.5 226 425.4 227.5 C428.3 229 432.2 230.9 436.2 230.6 C440.1 230.4 445.1 228 448.9 225.9 C452.6 223.8 455.4 221.4 458.6 218.1 C461.9 214.8 465.5 210.3 468.4 206.4 C471.3 202.5 474.1 198.6 476.2 194.7 C478.3 190.7 479.9 186.6 481.1 182.9 C482.3 179.3 482.8 176.3 483.3 172.8 C483.7 169.3 483.9 163.8 484 162" fill="none" stroke="#5e402d" stroke-width="17" stroke-linejoin="round" stroke-dasharray="1.2 1.1" stroke-linecap="butt" opacity="0.85"/>
<path d="M419.5 225.5 C422.3 226.2 430.6 229.9 436.2 229.4 C441.7 229 450 223.7 452.8 222.6" fill="none" stroke="#5e402d" stroke-width="30" stroke-linejoin="round" stroke-dasharray="1.1 1.2" stroke-linecap="butt" opacity="0.8"/>
<path d="M481.1 162 C480.1 163.5 477.4 168.1 475.2 171.2 C473.1 174.3 470.8 177.6 468.4 180.6 C466 183.6 462.7 187.4 460.6 189.4 C458.5 191.4 456.5 192.1 455.7 192.7" fill="none" stroke="#5e402d" stroke-width="8" stroke-linejoin="round" stroke-dasharray="1.1 1.4" stroke-linecap="butt" opacity="0.8"/>
<path d="M411.7 184.5 L416.6 187.4" fill="none" stroke="#5e402d" stroke-width="8" stroke-linejoin="round" stroke-dasharray="1.1 1.4" stroke-linecap="butt" opacity="0.8"/>
</g>
<path d="M474.3 152.2 C476 151.5 481.7 153.2 484 154.8 C486.4 156.4 488.1 159.3 488.3 162 C488.6 164.7 486.4 168 485.6 170.8 C484.8 173.6 484.5 176.2 483.6 178.6 C482.8 181.1 481.6 185.5 480.5 185.5 C479.5 185.5 478.2 181.4 477.4 178.6 C476.5 175.9 476.1 172.1 475.4 168.9 C474.8 165.6 473.7 161.9 473.5 159.1 C473.3 156.3 472.5 153 474.3 152.2Z" fill="#5c3c2b"/>
<path d="M416 188.4 C416.8 187.4 421.3 185.2 424 185.8 C426.6 186.4 429.3 190.7 432 191.9 C434.6 193.1 437.3 193.2 440 192.8 C442.6 192.5 445.5 189.1 448 189.6 C450.4 190.2 453.9 194.9 454.7 196.4 C455.5 197.8 454.1 198.4 452.7 198.3 C451.4 198.2 448.8 195.7 446.4 195.7 C444 195.7 441 197.8 438.4 198.3 C435.7 198.7 432.8 198.8 430.4 198.3 C428 197.7 425.9 196.1 424 195.1 C422.1 194 420.2 193 418.9 191.9 C417.5 190.8 415.1 189.4 416 188.4Z" fill="#5f3f2c"/>
<path d="M424 202.7 C425 202.2 429.3 202.4 432 202 C434.6 201.5 437.1 201.1 440 200.2 C442.8 199.3 448.1 196.1 448.9 196.4 C449.8 196.6 446.8 200 445.1 201.5 C443.3 203 440.8 204.4 438.4 205.3 C435.9 206.2 432.5 206.9 430.4 206.9 C428.2 206.9 426.6 206 425.6 205.3 C424.5 204.6 422.9 203.3 424 202.7Z" fill="#fff" stroke="#1c140c" stroke-width="1.3" stroke-linejoin="round" stroke-linecap="round"/>
<path d="M427.2 205.9 C428.4 206.1 432 207.2 434.4 206.9 C436.8 206.6 440.4 204.5 441.6 204" fill="none" stroke="#e9a58a" stroke-width="2" stroke-linejoin="round" stroke-linecap="round"/>
<path d="M413.7 147.4 C412.4 150.9 412.3 155.2 412.1 159.1 C412 163 412.9 166.9 412.7 170.8 C412.5 174.7 411.4 179 410.9 182.5 C410.5 186.1 409.9 189.1 409.8 192.3 C409.6 195.6 409.6 198.8 410.2 202.1 C410.7 205.3 411.5 208.6 412.9 211.9 C414.3 215.1 416.5 219 418.6 221.6 C420.7 224.2 422.5 226 425.4 227.5 C428.3 229 432.2 230.9 436.2 230.6 C440.1 230.4 445.1 228 448.9 225.9 C452.6 223.8 455.4 221.4 458.6 218.1 C461.9 214.8 465.5 210.3 468.4 206.4 C471.3 202.5 474.1 198.6 476.2 194.7 C478.3 190.7 479.9 186.6 481.1 182.9 C482.3 179.3 482.8 176.3 483.3 172.8 C483.7 169.3 484.2 164.9 484 162 C483.8 159.1 484 157.9 482.1 155.2 C480.1 152.4 476.2 148.1 472.3 145.4 C468.4 142.7 463.2 140.5 458.6 138.8 C454.1 137 449.5 135.6 444.9 134.9 C440.4 134.1 435.5 133.5 431.3 134.1 C427 134.6 422.5 135.8 419.5 138 C416.6 140.2 414.9 143.8 413.7 147.4Z" fill="none" stroke="#1c140c" stroke-width="1.4" stroke-linejoin="round" stroke-linecap="round"/>
<path d="M440 157.2 C438.2 155.8 436 154.6 434.4 156.1 C432.8 157.5 431.6 162.5 430.4 166 C429.2 169.5 427.9 174.1 427.2 177.2 C426.5 180.2 425.9 182.3 426.2 184.4 C426.5 186.4 427.4 188.2 428.8 189.3 C430.1 190.4 432.2 190.9 434.4 190.9 C436.5 190.9 439.4 190.1 441.6 189.3 C443.7 188.5 445.9 187.5 447.3 186.1 C448.8 184.8 450 183.2 450.2 181.2 C450.4 179.1 449.7 176.8 448.8 174 C447.8 171.2 446.2 167.2 444.8 164.4 C443.3 161.6 441.7 158.6 440 157.2Z" fill="#fae2bc"/>
<path d="M432 169.2 C431.6 170 430.1 176 429.6 178.8 C429 181.6 428.4 184.4 428.8 186 C429.2 187.6 431.7 189 432 188.4 C432.2 187.7 430.4 184.4 430.4 182 C430.4 179.6 431.7 176.1 432 174 C432.2 171.8 432.4 168.4 432 169.2Z" fill="#f3c9a0"/>
<path d="M434.8 155.8 C434.1 157.5 431.6 162.4 430.4 166 C429.1 169.6 427.9 174.1 427.2 177.2 C426.5 180.2 425.9 182.3 426.2 184.4 C426.5 186.4 427.4 188.2 428.8 189.3 C430.1 190.4 432.2 190.9 434.4 190.9 C436.5 190.9 439.4 190.1 441.6 189.3 C443.7 188.5 445.9 187.5 447.3 186.1 C448.8 184.8 449.7 182.1 450.2 181.3" fill="none" stroke="#1c140c" stroke-width="3" stroke-linejoin="round" stroke-linecap="round"/>
<path d="M450.2 181.3 C450 180.9 449.7 179.3 449.2 178.5 C448.8 177.6 447.9 176.7 447.6 176.4" fill="none" stroke="#1c140c" stroke-width="1.2" stroke-linejoin="round" stroke-linecap="round"/>
<path d="M419.2 157.7 C419.8 157 422.1 156.4 424 156.4 C425.8 156.3 429.4 156.7 430.4 157.4 C431.3 158 430.8 159.8 429.7 160.5 C428.7 161.3 425.6 162.1 424 162.1 C422.4 162.1 420.8 161.3 420 160.5 C419.2 159.8 418.5 158.4 419.2 157.7Z" fill="#fbf3e4" stroke="#1c140c" stroke-width="0.8" stroke-linejoin="round" stroke-linecap="round"/>
<path d="M417.9 155.1 C419.2 154.9 423.2 153.7 425.6 153.8 C428 154 431.2 155.7 432.3 156.1" fill="none" stroke="#1c140c" stroke-width="2.6" stroke-linejoin="round" stroke-linecap="round"/>
<path d="M422.4 155.4 C422.8 154.9 425 154.6 426.4 154.8 C427.8 155 430.2 155.8 430.7 156.4 C431.2 157 430.3 158.2 429.6 158.6 C428.9 159.1 427.4 159.4 426.4 159.3 C425.4 159.2 424.3 158.6 423.7 158 C423 157.4 421.9 156 422.4 155.4Z" fill="#2a1c12"/>
<path d="M419.2 162 C420 162.3 422.2 164 424 164.1 C425.7 164.1 428.6 162.7 429.6 162.5" fill="none" stroke="#1c140c" stroke-width="0.7" stroke-linejoin="round" stroke-linecap="round"/>
<path d="M453.5 161.5 C454.5 160.7 456.9 159.3 459.1 159.3 C461.4 159.2 465.3 160.3 467.1 161.2 C469 162 470.9 163.2 470.3 164.4 C469.8 165.6 466.2 167.8 463.9 168.2 C461.7 168.6 458.6 167.6 456.9 166.9 C455.2 166.3 454.3 165 453.7 164.1 C453.1 163.2 452.6 162.3 453.5 161.5Z" fill="#fbf3e4" stroke="#1c140c" stroke-width="0.8" stroke-linejoin="round" stroke-linecap="round"/>
<path d="M453.1 159.9 C454.3 159.6 457.8 157.4 460.7 158 C463.7 158.6 469 162.8 470.7 163.7" fill="none" stroke="#1c140c" stroke-width="3" stroke-linejoin="round" stroke-linecap="round"/>
<path d="M459.9 159.3 C460.7 158.8 463.3 159.1 464.7 159.6 C466.1 160.1 468.1 161.6 468.4 162.5 C468.7 163.3 467.3 164.3 466.3 164.7 C465.4 165.1 463.6 165.1 462.7 164.7 C461.7 164.3 460.9 163.4 460.4 162.5 C460 161.6 459.2 159.8 459.9 159.3Z" fill="#2a1c12"/>
<path d="M454.3 167.6 C455.4 168.1 458.3 170.5 460.7 170.5 C463.1 170.5 467.4 168.1 468.7 167.6" fill="none" stroke="#1c140c" stroke-width="0.7" stroke-linejoin="round" stroke-linecap="round"/>
<path d="M416.6 149.3 C418.1 148.8 422.1 146.8 425.4 146.2 C428.7 145.6 434.5 145.9 436.3 145.8" fill="none" stroke="#3a2418" stroke-width="2.6" stroke-linejoin="round" stroke-linecap="round"/>
<path d="M448.9 144.2 C450.5 144.4 455.4 144.2 458.6 145 C461.9 145.9 465.6 147.4 468.4 149.3 C471.2 151.2 474.3 155.2 475.4 156.3" fill="none" stroke="#3a2418" stroke-width="3" stroke-linejoin="round" stroke-linecap="round"/>
<path d="M410.7 131.9 C411.2 128.9 410.9 125.2 412.4 122.5 C413.9 119.8 416.7 117.4 419.8 115.7 C422.9 113.9 426.9 112.9 431.2 112 C435.4 111 439.7 109.8 445.4 110 C451 110.2 459.6 111.5 465.3 113.4 C470.9 115.3 474.7 118.5 479.5 121.4 C484.2 124.2 489.4 127.1 493.7 130.5 C497.9 133.9 501.8 138 505 141.8 C508.3 145.6 511.1 149.9 513 153.2 C514.8 156.5 516 159.1 516.1 161.7 C516.3 164.4 515 167.4 513.8 169.1 C512.7 170.8 510.8 172 509.3 172 C507.8 172 506.7 170.3 505 169.1 C503.4 167.9 502 166.7 499.4 164.6 C496.7 162.4 493.2 159.1 489.4 156.3 C485.6 153.6 481.1 150.7 476.6 148.1 C472.1 145.5 467.1 142.6 462.4 140.7 C457.7 138.8 452.9 137.4 448.2 136.4 C443.5 135.5 438.3 134.8 434 135 C429.7 135.3 425.9 136.4 422.6 137.9 C419.3 139.3 416.1 141.7 414.1 143.5 C412.1 145.3 411.2 149.2 410.4 148.7 C409.6 148.1 409.2 143.2 409.3 140.4 C409.3 137.6 410.2 134.9 410.7 131.9Z" fill="#f5da66" stroke="#1c140c" stroke-width="1.4" stroke-linejoin="round" stroke-linecap="round"/>
<path d="M415.5 127.6 C417.7 126.3 423.3 121.5 428.3 119.7 C433.3 117.9 439.7 116.9 445.4 116.8 C451 116.7 459.6 118.7 462.4 119.1" fill="none" stroke="#d6b241" stroke-width="1.5" stroke-linejoin="round" stroke-linecap="round"/>
<path d="M414.1 139 C416 137.8 420.7 133.7 425.5 131.9 C430.2 130.1 436.4 128.2 442.5 128.2 C448.7 128.2 456.5 129.9 462.4 131.9 C468.3 133.9 475.4 139 478 140.4" fill="none" stroke="#d6b241" stroke-width="1.5" stroke-linejoin="round" stroke-linecap="round"/>
<path d="M473.8 127.6 C476.1 129.3 483.7 134 488 137.6 C492.2 141.1 495.9 144.8 499.4 148.9 C502.8 153.1 506.9 160.1 508.4 162.3" fill="none" stroke="#d6b241" stroke-width="1.5" stroke-linejoin="round" stroke-linecap="round"/>
<path d="M451 113.4 C454.4 114.4 464.8 116.3 470.9 119.1 C477.1 121.9 483 126.4 488 130.5 C493 134.5 498.6 141.1 500.8 143.3" fill="none" stroke="#d6b241" stroke-width="1.5" stroke-linejoin="round" stroke-linecap="round"/>
<path d="M465.3 137.6 C467.6 138.9 474.7 142.2 479.5 145.2 C484.2 148.3 489.4 152.6 493.7 156 C497.9 159.5 503.1 164.3 505 166" fill="none" stroke="#d6b241" stroke-width="1.5" stroke-linejoin="round" stroke-linecap="round"/>
<path d="M418.4 123.4 C420.5 122.3 426.2 118.3 431.2 116.8 C436.1 115.4 445.4 114.9 448.2 114.6" fill="none" stroke="#fbeb9a" stroke-width="2.2" stroke-linejoin="round" stroke-linecap="round"/>
<path d="M436.8 124.8 C439.7 124.8 448.2 123.6 453.9 124.8 C459.6 126 468.1 130.7 470.9 131.9" fill="none" stroke="#fbeb9a" stroke-width="2.2" stroke-linejoin="round" stroke-linecap="round"/>
<path d="M488 143.3 C489.9 145.1 496 150.8 499.4 154.6 C502.7 158.4 506.5 164.1 507.9 166" fill="none" stroke="#fbeb9a" stroke-width="2.2" stroke-linejoin="round" stroke-linecap="round"/>
<path d="M410.7 131.9 C411.2 128.9 410.9 125.2 412.4 122.5 C413.9 119.8 416.7 117.4 419.8 115.7 C422.9 113.9 426.9 112.9 431.2 112 C435.4 111 439.7 109.8 445.4 110 C451 110.2 459.6 111.5 465.3 113.4 C470.9 115.3 474.7 118.5 479.5 121.4 C484.2 124.2 489.4 127.1 493.7 130.5 C497.9 133.9 501.8 138 505 141.8 C508.3 145.6 511.1 149.9 513 153.2 C514.8 156.5 516 159.1 516.1 161.7 C516.3 164.4 515 167.4 513.8 169.1 C512.7 170.8 510.8 172 509.3 172 C507.8 172 506.7 170.3 505 169.1 C503.4 167.9 502 166.7 499.4 164.6 C496.7 162.4 493.2 159.1 489.4 156.3 C485.6 153.6 481.1 150.7 476.6 148.1 C472.1 145.5 467.1 142.6 462.4 140.7 C457.7 138.8 452.9 137.4 448.2 136.4 C443.5 135.5 438.3 134.8 434 135 C429.7 135.3 425.9 136.4 422.6 137.9 C419.3 139.3 416.1 141.7 414.1 143.5 C412.1 145.3 411.2 149.2 410.4 148.7 C409.6 148.1 409.2 143.2 409.3 140.4 C409.3 137.6 410.2 134.9 410.7 131.9Z" fill="none" stroke="#1c140c" stroke-width="1.4" stroke-linejoin="round" stroke-linecap="round"/>
<path d="M341.3 171.5 C341.5 170.1 342.8 168.2 344 167.7 C345.2 167.3 346.5 169.8 348.4 168.8 C350.3 167.8 352.6 164.8 355.5 161.5 C358.5 158.2 362.9 152.8 366.2 149.1 C369.4 145.4 372.5 142 375.1 139.3 C377.6 136.6 378.9 135 381.3 133.1 C383.6 131.2 386.5 128.9 389.3 127.8 C392.1 126.6 395.2 126.1 398.2 126 C401.1 125.8 404.4 126.1 407 126.9 C409.7 127.6 413.3 128.2 414.1 130.4 C415 132.6 413.3 137.3 412.4 140.2 C411.5 143.1 409.7 145.7 408.8 147.7 C407.9 149.6 408.1 151.1 407 151.9 C406 152.8 404.1 153.9 402.6 152.8 C401.1 151.7 400.1 147 398.2 145.5 C396.2 144 393.9 143.6 391 143.7 C388.2 143.9 382.8 143.2 381.3 146.4 C379.8 149.7 382 157 382.2 163.3 C382.3 169.5 384.2 181 382.2 183.9 C380.1 186.7 374.2 180.9 369.7 180.3 C365.3 179.7 359.1 180.9 355.5 180.3 C352 179.7 350.5 177.6 348.4 176.8 C346.3 176 344.3 176.6 343.1 175.7 C341.9 174.8 341.2 172.8 341.3 171.5Z" fill="#fae2bc" stroke="#1c140c" stroke-width="1.4" stroke-linejoin="round" stroke-linecap="round"/>
<path d="M379.5 148.2 C380.4 145.1 382 142.4 382.5 148.2 C383 154 383.2 177.6 382.5 183.2 C381.9 188.8 380.2 182.4 378.6 181.9 C377.1 181.5 373.6 182.9 373.3 180.3 C373 177.8 375.8 172.2 376.8 166.8 C377.9 161.5 378.6 151.3 379.5 148.2Z" fill="#f1c694"/>
<path d="M381.3 146.4 L388.6 144.6 L387.5 182.8 L382.2 184.4Z" fill="#3a3836" stroke="#1c140c" stroke-width="1" stroke-linejoin="round" stroke-linecap="round"/>
<path d="M388.6 144.6 L391 144.8 L410.9 163.3 L410.9 172.5 L389.6 180.7 L387.5 182.8Z" fill="#d8d4d0" stroke="#1c140c" stroke-width="1" stroke-linejoin="round" stroke-linecap="round"/>
<path d="M390.7 146.6 L410.2 164.4 L410.2 171.8 L390.3 178.9Z" fill="#8c5d49"/>
<path d="M381.3 136.6 C383.1 135.8 386.5 136.3 389.3 136.6 C392.1 136.9 395.5 137.7 398.2 138.4 C400.8 139.2 403.5 139.6 405.3 141.1 C407 142.6 408.5 145.5 408.8 147.3 C409.1 149.1 408 151 407 151.9 C406 152.9 404.1 153.9 402.8 153 C401.4 152.1 401 148 399 146.4 C397.1 144.9 393.6 144 391 143.7 C388.5 143.5 385.8 144.2 383.9 144.8 C382.1 145.5 380.9 148.1 380 147.7 C379.1 147.2 378.4 143.8 378.6 142 C378.8 140.1 379.5 137.5 381.3 136.6Z" fill="#fae2bc" stroke="#1c140c" stroke-width="1.4" stroke-linejoin="round" stroke-linecap="round"/>
<path d="M383.9 138.4 C384.8 138.7 387.8 139.3 389.3 140.2 C390.8 141.1 392.2 143.2 392.8 143.7" fill="none" stroke="#1c140c" stroke-width="0.9" stroke-linejoin="round" stroke-linecap="round"/>
<path d="M391 136.6 C392.2 137.1 396.4 138 398.2 139.3 C399.9 140.6 401.1 143.7 401.7 144.6" fill="none" stroke="#1c140c" stroke-width="0.9" stroke-linejoin="round" stroke-linecap="round"/>
<path d="M382.5 182.8 C382.2 183.4 385.2 183.4 387.5 184.2 C389.8 185.1 393.9 186 396.4 188.2 C398.9 190.3 400.8 195.2 402.6 197 C404.4 198.8 406 199.6 407 199 C408.1 198.4 409.3 195.6 409 193.5 C408.7 191.4 407.1 188.6 405.3 186.4 C403.5 184.2 398.4 181.9 398.2 180.3 C397.9 178.8 404.9 177 403.5 177.1 C402.1 177.3 393.1 180.1 389.6 181 C386.1 182 382.9 182.3 382.5 182.8Z" fill="#fae2bc" stroke="#1c140c" stroke-width="1.4" stroke-linejoin="round" stroke-linecap="round"/>
</g>
</svg>
</body></html>
